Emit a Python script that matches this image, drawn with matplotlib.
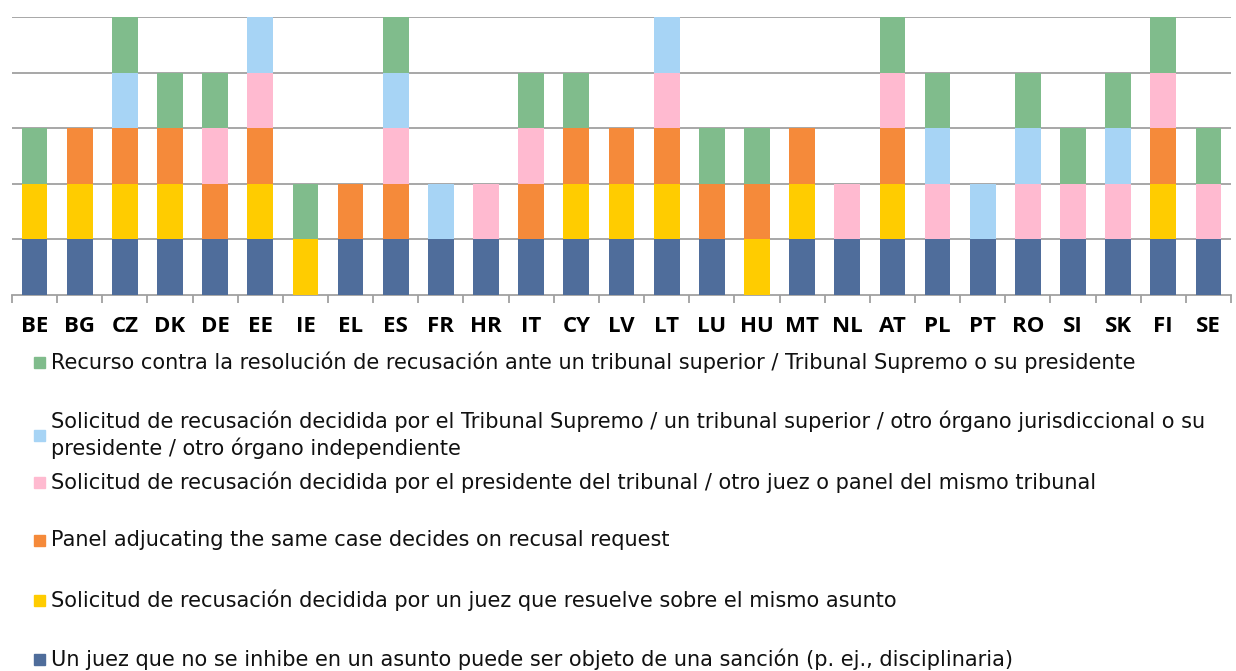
import numpy as np
import matplotlib.pyplot as plt
from matplotlib.patches import Rectangle

plt.rcParams['font.family'] = ['Open Sans', 'DejaVu Sans']

countries = ['BE', 'BG', 'CZ', 'DK', 'DE', 'EE', 'IE', 'EL', 'ES', 'FR', 'HR', 'IT', 'CY', 'LV',
             'LT', 'LU', 'HU', 'MT', 'NL', 'AT', 'PL', 'PT', 'RO', 'SI', 'SK', 'FI', 'SE']

# one flag per country for each type of rule, stacked bottom to top
sanction      = [1, 1, 1, 1, 1, 1, 0, 1, 1, 1, 1, 1, 1, 1, 1, 1, 0, 1, 1, 1, 1, 1, 1, 1, 1, 1, 1]
same_judge    = [1, 1, 1, 1, 0, 1, 1, 0, 0, 0, 0, 0, 1, 1, 1, 0, 1, 1, 0, 1, 0, 0, 0, 0, 0, 1, 0]
same_panel    = [0, 1, 1, 1, 1, 1, 0, 1, 1, 0, 0, 1, 1, 1, 1, 1, 1, 1, 0, 1, 0, 0, 0, 0, 0, 1, 0]
court_pres    = [0, 0, 0, 0, 1, 1, 0, 0, 1, 0, 1, 1, 0, 0, 1, 0, 0, 0, 1, 1, 1, 0, 1, 1, 1, 1, 1]
higher_court  = [0, 0, 1, 0, 0, 1, 0, 0, 1, 1, 0, 0, 0, 0, 1, 0, 0, 0, 0, 0, 1, 1, 1, 0, 1, 0, 0]
appeal        = [1, 0, 1, 1, 1, 0, 1, 0, 1, 0, 0, 1, 1, 0, 0, 1, 1, 0, 0, 1, 1, 0, 1, 1, 1, 1, 1]

series = [sanction, same_judge, same_panel, court_pres, higher_court, appeal]
colors = ['#4F6D9B', '#FFCC00', '#F58A3A', '#FFBAD0', '#A7D4F5', '#80BC8C']
labels = [
    'Un juez que no se inhibe en un asunto puede ser objeto de una sanción (p. ej., disciplinaria)',
    'Solicitud de recusación decidida por un juez que resuelve sobre el mismo asunto',
    'Panel adjucating the same case decides on recusal request',
    'Solicitud de recusación decidida por el presidente del tribunal / otro juez o panel del mismo tribunal',
    'Solicitud de recusación decidida por el Tribunal Supremo / un tribunal superior / otro órgano jurisdiccional o su\npresidente / otro órgano independiente',
    'Recurso contra la resolución de recusación ante un tribunal superior / Tribunal Supremo o su presidente',
]

fig = plt.figure(figsize=(12.36, 6.71), dpi=100)
ax = fig.add_axes([12 / 1236, 1 - 295 / 671, 1219 / 1236, 278 / 671])

x = np.arange(len(countries))
bottom = np.zeros(len(countries))
for vals, col in zip(series, colors):
    vals = np.array(vals)
    ax.bar(x, vals, bottom=bottom, width=0.57, color=col, zorder=3)
    bottom += vals

ax.set_xlim(-0.5, len(countries) - 0.5)
ax.set_ylim(0, 5)
ax.set_yticks([1, 2, 3, 4, 5])
ax.yaxis.grid(True, color='#A0A0A0', linewidth=1.3, zorder=0)
ax.tick_params(axis='y', left=False, labelleft=False)
for side in ['left', 'right', 'top']:
    ax.spines[side].set_visible(False)
ax.spines['bottom'].set_color('#A0A0A0')
ax.spines['bottom'].set_linewidth(1.3)

ax.set_xticks(x)
ax.set_xticklabels(countries, fontsize=16, fontweight='bold')
ax.tick_params(axis='x', length=0, pad=15)
ax.set_xticks(np.arange(len(countries) + 1) - 0.5, minor=True)
ax.tick_params(axis='x', which='minor', length=6, width=1.3, color='#A0A0A0')

# legend built by hand, listed top to bottom in reverse stacking order
legend_y = [362, 435, 482, 540, 600, 659]
for (lab, col), ypx in zip(list(zip(labels, colors))[::-1], legend_y):
    yf = 1 - ypx / 671
    fig.patches.append(Rectangle((34 / 1236, yf - 5.5 / 671), 11 / 1236, 11 / 671,
                                 transform=fig.transFigure, color=col))
    fig.text(51 / 1236, yf, lab, fontsize=15, family='DejaVu Sans',
             va='center', ha='left', color='#111111', linespacing=1.3)

fig.savefig('out.png', dpi=100)
